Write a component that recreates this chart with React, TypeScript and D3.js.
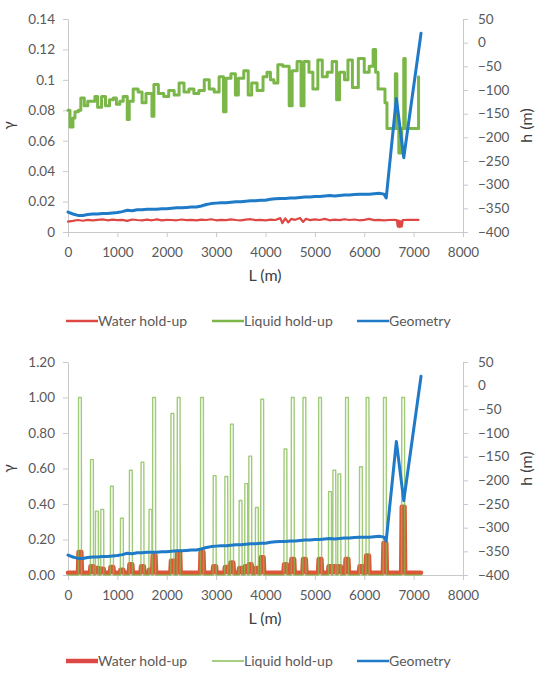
import { useEffect, useRef } from "react"
import * as d3 from "d3"

type Pt = [number, number]

// shared axes
const lTicks = [0, 1000, 2000, 3000, 4000, 5000, 6000, 7000, 8000]
const hTicks = [-400, -350, -300, -250, -200, -150, -100, -50, 0, 50]
const topGammaTicks = [0, 0.02, 0.04, 0.06, 0.08, 0.1, 0.12, 0.14]
const botGammaTicks = [0, 0.2, 0.4, 0.6, 0.8, 1.0, 1.2]
const legendNames = ["Water hold-up", "Liquid hold-up", "Geometry"]

// pipeline elevation profile h (m) along L (m)
const geometry: Pt[] = [
  [0, -358], [100, -362], [200, -365], [300, -365], [400, -363], [500, -362], [600, -362], [700, -361],
  [800, -361], [900, -360], [1000, -359], [1100, -357], [1200, -354], [1300, -355], [1400, -353], [1500, -353],
  [1600, -352], [1700, -352], [1800, -352], [1900, -351], [2000, -351], [2100, -350], [2200, -349], [2300, -349],
  [2400, -348], [2500, -347], [2600, -347], [2700, -345], [2800, -342], [2900, -340], [3000, -339], [3100, -338],
  [3200, -338], [3300, -337], [3400, -336], [3500, -336], [3600, -335], [3700, -334], [3800, -334], [3900, -333],
  [4000, -333], [4100, -331], [4200, -330], [4300, -329], [4400, -329], [4500, -328], [4600, -328], [4700, -327],
  [4800, -326], [4900, -326], [5000, -325], [5100, -325], [5200, -324], [5300, -323], [5400, -324], [5500, -323],
  [5600, -322], [5700, -322], [5800, -321], [5900, -320], [6000, -320], [6100, -320], [6200, -319], [6300, -318],
  [6400, -320], [6445, -328], [6650, -118], [6800, -243], [7150, 20],
]

// top chart: water hold-up
const waterTop: Pt[] = [
  [0, 0.0068], [100, 0.0073], [200, 0.0079], [300, 0.0074], [400, 0.008], [500, 0.0076], [600, 0.008], [700, 0.0083],
  [800, 0.0077], [900, 0.0081], [1000, 0.0078], [1100, 0.008], [1200, 0.0073], [1300, 0.0082], [1400, 0.0079],
  [1500, 0.0077], [1600, 0.0081], [1700, 0.0077], [1800, 0.0083], [1900, 0.0076], [2000, 0.008], [2100, 0.0079],
  [2200, 0.0077], [2300, 0.0082], [2400, 0.0078], [2500, 0.008], [2600, 0.0076], [2700, 0.0081], [2800, 0.0079],
  [2900, 0.0084], [3000, 0.0077], [3100, 0.008], [3200, 0.0078], [3300, 0.0083], [3400, 0.0079], [3500, 0.0076],
  [3600, 0.0081], [3700, 0.0084], [3800, 0.0078], [3900, 0.008], [4000, 0.0077], [4100, 0.0081], [4200, 0.0079],
  [4300, 0.0091], [4340, 0.0058], [4400, 0.0089], [4460, 0.0063], [4520, 0.0086], [4600, 0.008], [4700, 0.0092],
  [4760, 0.0066], [4820, 0.0087], [4900, 0.0078], [5000, 0.0083], [5100, 0.0079], [5200, 0.0086], [5300, 0.0077],
  [5400, 0.0081], [5500, 0.0078], [5600, 0.0084], [5700, 0.0079], [5800, 0.0082], [5900, 0.0077], [6000, 0.008],
  [6100, 0.0086], [6200, 0.0078], [6300, 0.008], [6400, 0.0077], [6500, 0.0079], [6600, 0.008], [6660, 0.0078],
  [6680, 0.0035], [6700, 0.0075], [6720, 0.0032], [6740, 0.007], [6760, 0.0036], [6780, 0.0079], [6900, 0.008],
  [7000, 0.008], [7100, 0.008],
]

// top chart: liquid hold-up (stepped)
const liquidTop: Pt[] = [
  [0, 0.08], [40, 0.069], [100, 0.075], [141, 0.079], [209, 0.08], [260, 0.088], [330, 0.083], [400, 0.086],
  [478, 0.086], [545, 0.089], [600, 0.082], [680, 0.089], [760, 0.083], [840, 0.087], [916, 0.088], [980, 0.084],
  [1050, 0.086], [1118, 0.089], [1200, 0.074], [1240, 0.086], [1320, 0.094], [1420, 0.092], [1500, 0.085],
  [1580, 0.091], [1700, 0.076], [1740, 0.097], [1830, 0.091], [1940, 0.089], [2040, 0.093], [2150, 0.09],
  [2250, 0.098], [2350, 0.092], [2450, 0.094], [2550, 0.091], [2650, 0.093], [2760, 0.1], [2860, 0.094],
  [2960, 0.092], [3060, 0.102], [3150, 0.079], [3200, 0.101], [3300, 0.104], [3390, 0.09], [3450, 0.101],
  [3560, 0.106], [3650, 0.09], [3720, 0.098], [3830, 0.093], [3950, 0.102], [4030, 0.105], [4100, 0.1],
  [4170, 0.098], [4250, 0.11], [4350, 0.109], [4480, 0.083], [4540, 0.106], [4640, 0.112], [4720, 0.083],
  [4780, 0.112], [4880, 0.105], [4960, 0.094], [5060, 0.113], [5150, 0.102], [5250, 0.105], [5350, 0.112],
  [5440, 0.087], [5500, 0.105], [5600, 0.1], [5670, 0.113], [5760, 0.095], [5880, 0.114], [6000, 0.105],
  [6100, 0.109], [6180, 0.12], [6230, 0.105], [6280, 0.094], [6420, 0.085], [6460, 0.068], [6630, 0.104],
  [6660, 0.068], [6700, 0.052], [6760, 0.068], [6800, 0.114], [6830, 0.068], [7100, 0.102],
]

// bottom chart: liquid hold-up spikes [L, peak] and water hold-up bumps [L, height]
const liquidSpikes: Pt[] = [
  [242, 1.0], [485, 0.65], [586, 0.36], [694, 0.37], [889, 0.5], [1091, 0.32], [1273, 0.59], [1508, 0.635],
  [1670, 0.37], [1744, 1.0], [2114, 0.91], [2242, 1.0], [2714, 1.0], [2970, 0.56], [3206, 0.555], [3320, 0.85],
  [3495, 0.42], [3610, 0.515], [3691, 0.67], [3825, 0.38], [3933, 0.99], [4404, 0.71], [4552, 1.0], [4788, 1.0],
  [5105, 1.0], [5307, 0.47], [5394, 0.59], [5495, 0.57], [5650, 1.0], [5933, 0.61], [6067, 1.0], [6418, 1.0],
  [6788, 1.0],
]
const waterBumps: Pt[] = [
  [242, 0.13], [485, 0.05], [586, 0.04], [694, 0.035], [889, 0.045], [1091, 0.03], [1273, 0.06], [1508, 0.05],
  [1670, 0.03], [1744, 0.11], [2114, 0.08], [2242, 0.13], [2714, 0.13], [2970, 0.05], [3206, 0.045], [3320, 0.07],
  [3495, 0.04], [3610, 0.05], [3691, 0.06], [3825, 0.04], [3933, 0.1], [4404, 0.06], [4552, 0.09], [4788, 0.09],
  [5105, 0.09], [5307, 0.05], [5394, 0.05], [5495, 0.05], [5650, 0.09], [5933, 0.05], [6067, 0.11], [6418, 0.18],
  [6788, 0.385],
]
const waterBase = 0.012
const pipeEnd = 7150

// turn a list of [L, peak] into a flat-topped pulse trace
function pulses(items: Pt[], base: number, half: number, edge: number, end: number): Pt[] {
  const out: Pt[] = [[0, base]]
  items.forEach(([l, v]) => {
    out.push([l - half - edge, base], [l - half, v], [l + half, v], [l + half + edge, base])
  })
  out.push([end, base])
  return out
}

const FONT = "Lato, 'Open Sans', sans-serif"
const AXIS = "#c9c9c9"
const TXT = "#595959"

interface Series {
  data: Pt[]
  right?: boolean
  color: string
  width: number
  opacity?: number
  step?: boolean
}

interface Panel {
  top: number
  bottom: number
  gammaTicks: number[]
  gammaFmt: (d: number) => string
  series: Series[]
  legendY: number
  legendWidths: number[]
}

export default function App() {
  const svgRef = useRef<SVGSVGElement>(null)

  useEffect(() => {
    if (!svgRef.current) return
    const svg = d3.select(svgRef.current)
    svg.selectAll("*").remove()

    const left = 68
    const right = 463

    const red1 = "#de4844"
    const red2 = "#dc573a"
    const green = "#7ab648"
    const blue = "#1f7ac8"

    const panels: Panel[] = [
      {
        top: 19,
        bottom: 232,
        gammaTicks: topGammaTicks,
        gammaFmt: (d) => String(d),
        series: [
          { data: waterTop, color: red1, width: 2.2 },
          { data: liquidTop, color: green, width: 3, step: true },
          { data: geometry, right: true, color: blue, width: 3 },
        ],
        legendY: 321,
        legendWidths: [2.5, 2.5, 2.5],
      },
      {
        top: 362,
        bottom: 575,
        gammaTicks: botGammaTicks,
        gammaFmt: d3.format(".2f"),
        series: [
          { data: pulses(waterBumps, waterBase, 28, 12, pipeEnd), color: red2, width: 4.5 },
          { data: pulses(liquidSpikes, 0, 28, 4, pipeEnd), color: "#80ba4c", width: 1.4, opacity: 0.75 },
          { data: geometry, right: true, color: blue, width: 3 },
        ],
        legendY: 661,
        legendWidths: [4.5, 1.4, 2.5],
      },
    ]

    panels.forEach((p) => {
      const x = d3.scaleLinear().domain([0, 8000]).range([left, right])
      const yL = d3.scaleLinear().domain([0, p.gammaTicks[p.gammaTicks.length - 1]]).range([p.bottom, p.top])
      const yR = d3.scaleLinear().domain([-400, 50]).range([p.bottom, p.top])

      const style = (g: d3.Selection<SVGGElement, unknown, null, undefined>) => {
        g.select(".domain").attr("stroke", AXIS).attr("stroke-width", 1)
        g.selectAll(".tick line").attr("stroke", AXIS)
        g.selectAll(".tick text").attr("fill", TXT).attr("font-family", FONT).attr("font-size", 13.5)
      }

      svg.append("g")
        .attr("transform", `translate(0,${p.bottom})`)
        .call(d3.axisBottom(x).tickValues(lTicks).tickSize(5).tickSizeOuter(0).tickPadding(10).tickFormat(d3.format("d")))
        .call(style)

      svg.append("g")
        .attr("transform", `translate(${left},0)`)
        .call(d3.axisLeft(yL).tickValues(p.gammaTicks).tickSize(5).tickSizeOuter(0).tickPadding(8).tickFormat((d) => p.gammaFmt(d as number)))
        .call(style)

      svg.append("g")
        .attr("transform", `translate(${right},0)`)
        .call(d3.axisRight(yR).tickValues(hTicks).tickSize(5).tickSizeOuter(0).tickPadding(10))
        .call(style)

      // series
      p.series.forEach((s) => {
        const y = s.right ? yR : yL
        const line = d3.line<Pt>()
          .x((d) => x(d[0]))
          .y((d) => y(d[1]))
          .curve(s.step ? d3.curveStepAfter : d3.curveLinear)
        svg.append("path")
          .datum(s.data)
          .attr("d", line)
          .attr("fill", "none")
          .attr("stroke", s.color)
          .attr("stroke-width", s.width)
          .attr("stroke-opacity", s.opacity ?? 1)
          .attr("stroke-linejoin", "round")
          .attr("stroke-linecap", "round")
      })

      const mid = (p.top + p.bottom) / 2

      // axis titles
      svg.append("text")
        .attr("transform", `translate(14,${mid}) rotate(-90)`)
        .attr("text-anchor", "middle")
        .attr("font-family", FONT)
        .attr("font-size", 15)
        .attr("fill", "#404040")
        .text("γ")

      svg.append("text")
        .attr("transform", `translate(532,${mid}) rotate(-90)`)
        .attr("text-anchor", "middle")
        .attr("font-family", FONT)
        .attr("font-size", 16)
        .attr("fill", "#404040")
        .text("h (m)")

      svg.append("text")
        .attr("x", 265)
        .attr("y", p.bottom + 49)
        .attr("text-anchor", "middle")
        .attr("font-family", FONT)
        .attr("font-size", 16)
        .attr("fill", "#404040")
        .text("L (m)")

      // legend
      const legX = [66, 212, 357]
      legendNames.forEach((name, i) => {
        const s = p.series[i]
        svg.append("line")
          .attr("x1", legX[i])
          .attr("x2", legX[i] + 32)
          .attr("y1", p.legendY)
          .attr("y2", p.legendY)
          .attr("stroke", i === 0 ? red1 : s.color)
          .attr("stroke-width", p.legendWidths[i])
        svg.append("text")
          .attr("x", legX[i] + 32)
          .attr("y", p.legendY)
          .attr("dy", "0.35em")
          .attr("font-family", FONT)
          .attr("font-size", 14)
          .attr("fill", TXT)
          .text(name)
      })
    })
  }, [])

  return (
    <svg
      ref={svgRef}
      width={538}
      height={673}
      style={{ position: "absolute", left: 0, top: 0, background: "#fff" }}
    />
  )
}
